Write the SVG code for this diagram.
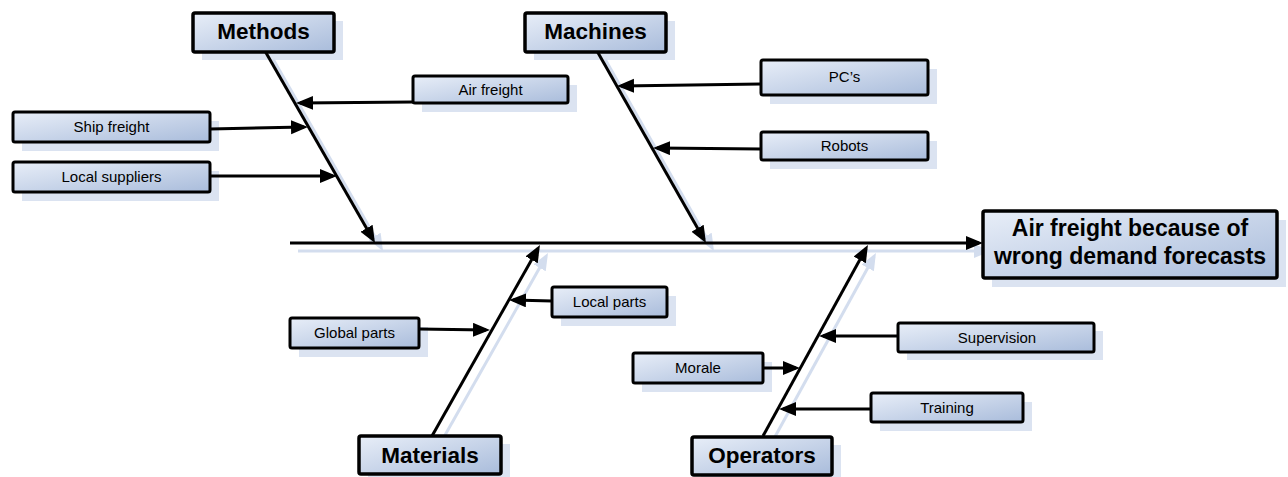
<svg xmlns="http://www.w3.org/2000/svg" width="1288" height="477" viewBox="0 0 1288 477">
  <defs>
    <linearGradient id="boxFill" x1="0" y1="0" x2="1" y2="1">
      <stop offset="0" stop-color="#e8eef8"/>
      <stop offset="1" stop-color="#a9bcdb"/>
    </linearGradient>
    <marker id="head" markerUnits="userSpaceOnUse" markerWidth="18" markerHeight="16" refX="13" refY="7" orient="auto">
      <path d="M0,0 L17,7 L0,14 z" fill="#000"/>
    </marker>
    <marker id="headShadow" markerUnits="userSpaceOnUse" markerWidth="18" markerHeight="16" refX="13" refY="7" orient="auto">
      <path d="M0,0 L17,7 L0,14 z" fill="#d3ddee"/>
    </marker>
  </defs>
  <style>
    .shadow { fill: #dbe3f1; }
    .box { fill: url(#boxFill); stroke: #000; stroke-width: 3; }
    .cat { fill: url(#boxFill); stroke: #000; stroke-width: 3.5; }
    .lbl { font-family: "Liberation Sans", Arial, sans-serif; font-size: 15px; fill: #000; text-anchor: middle; }
    .big { font-family: "Liberation Sans", Arial, sans-serif; font-size: 22.5px; font-weight: bold; fill: #000; text-anchor: middle; }
    .main { font-family: "Liberation Sans", Arial, sans-serif; font-size: 23px; font-weight: bold; fill: #000; text-anchor: middle; }
    .bone { stroke: #000; stroke-width: 3; fill: none; marker-end: url(#head); }
    .boneShadow { stroke: #d3ddee; stroke-width: 3; fill: none; marker-end: url(#headShadow); }
  </style>

  <rect width="1288" height="477" fill="#fff"/>

  <!-- drop shadows behind every box -->
  <g id="box-shadows">
    <rect class="shadow" x="992" y="220" width="294" height="67"/>
    <rect class="shadow" x="202" y="21" width="141" height="39"/>
    <rect class="shadow" x="534" y="21" width="141" height="39"/>
    <rect class="shadow" x="368" y="444" width="142" height="38"/>
    <rect class="shadow" x="701" y="445" width="140" height="38"/>
    <rect class="shadow" x="422" y="85" width="155" height="27"/>
    <rect class="shadow" x="22" y="121" width="197" height="30"/>
    <rect class="shadow" x="22" y="171" width="197" height="30"/>
    <rect class="shadow" x="770" y="69" width="167" height="35"/>
    <rect class="shadow" x="770" y="141" width="167" height="28"/>
    <rect class="shadow" x="561" y="296" width="115" height="30"/>
    <rect class="shadow" x="299" y="327" width="129" height="30"/>
    <rect class="shadow" x="642" y="362" width="130" height="30"/>
    <rect class="shadow" x="907" y="331" width="196" height="29"/>
    <rect class="shadow" x="880" y="402" width="152" height="29"/>
  </g>

  <!-- soft shadows of spine and bones -->
  <g id="bone-shadows" transform="translate(8,8)">
    <line class="boneShadow" x1="290" y1="243" x2="979" y2="243"/>
    <line class="boneShadow" x1="265" y1="51" x2="373" y2="239.5"/>
    <line class="boneShadow" x1="597" y1="51" x2="704" y2="239.5"/>
    <line class="boneShadow" x1="432" y1="436" x2="538" y2="248.5"/>
    <line class="boneShadow" x1="763" y1="436" x2="866" y2="248.5"/>
  </g>

  <!-- connectors: spine, main bones and cause arrows -->
  <g id="connectors">
    <line class="bone" x1="290" y1="243" x2="979" y2="243"/>
    <line class="bone" x1="265" y1="51" x2="373" y2="239.5"/>
    <line class="bone" x1="597" y1="51" x2="704" y2="239.5"/>
    <line class="bone" x1="432" y1="436" x2="538" y2="248.5"/>
    <line class="bone" x1="763" y1="436" x2="866" y2="248.5"/>

    <line class="bone" x1="413" y1="102" x2="300" y2="103"/>
    <line class="bone" x1="210" y1="129" x2="304" y2="127"/>
    <line class="bone" x1="210" y1="176" x2="333" y2="176"/>
    <line class="bone" x1="761" y1="84" x2="621" y2="86"/>
    <line class="bone" x1="761" y1="149" x2="657" y2="148"/>
    <line class="bone" x1="552" y1="301" x2="513" y2="300"/>
    <line class="bone" x1="419" y1="329" x2="486" y2="330"/>
    <line class="bone" x1="763" y1="368" x2="796" y2="368"/>
    <line class="bone" x1="898" y1="336" x2="823" y2="336"/>
    <line class="bone" x1="871" y1="409" x2="783" y2="409"/>
  </g>

  <!-- effect -->
  <g id="effect">
    <rect class="cat" x="983" y="211" width="294" height="67" rx="2"/>
    <text class="main" x="1130" y="236">Air freight because of</text>
    <text class="main" x="1130" y="264">wrong demand forecasts</text>
  </g>

  <!-- categories -->
  <g id="methods">
    <rect class="cat" x="193" y="13" width="141" height="39" rx="2"/>
    <text class="big" x="263.5" y="39">Methods</text>
  </g>
  <g id="machines">
    <rect class="cat" x="525" y="13" width="141" height="39" rx="2"/>
    <text class="big" x="595.5" y="39">Machines</text>
  </g>
  <g id="materials">
    <rect class="cat" x="359" y="436" width="142" height="38" rx="2"/>
    <text class="big" x="430" y="463">Materials</text>
  </g>
  <g id="operators">
    <rect class="cat" x="692" y="437" width="140" height="38" rx="2"/>
    <text class="big" x="762" y="463">Operators</text>
  </g>

  <!-- causes -->
  <g id="air-freight">
    <rect class="box" x="413" y="76" width="155" height="27" rx="2"/>
    <text class="lbl" x="490.5" y="95">Air freight</text>
  </g>
  <g id="ship-freight">
    <rect class="box" x="13" y="112" width="197" height="30" rx="2"/>
    <text class="lbl" x="111.5" y="132">Ship freight</text>
  </g>
  <g id="local-suppliers">
    <rect class="box" x="13" y="162" width="197" height="30" rx="2"/>
    <text class="lbl" x="111.5" y="182">Local suppliers</text>
  </g>
  <g id="pcs">
    <rect class="box" x="761" y="60" width="167" height="35" rx="2"/>
    <text class="lbl" x="844.5" y="82">PC’s</text>
  </g>
  <g id="robots">
    <rect class="box" x="761" y="132" width="167" height="28" rx="2"/>
    <text class="lbl" x="844.5" y="151">Robots</text>
  </g>
  <g id="local-parts">
    <rect class="box" x="552" y="287" width="115" height="30" rx="2"/>
    <text class="lbl" x="609.5" y="307">Local parts</text>
  </g>
  <g id="global-parts">
    <rect class="box" x="290" y="318" width="129" height="30" rx="2"/>
    <text class="lbl" x="354.5" y="338">Global parts</text>
  </g>
  <g id="morale">
    <rect class="box" x="633" y="353" width="130" height="30" rx="2"/>
    <text class="lbl" x="698" y="373">Morale</text>
  </g>
  <g id="supervision">
    <rect class="box" x="898" y="323" width="196" height="29" rx="2"/>
    <text class="lbl" x="997" y="343">Supervision</text>
  </g>
  <g id="training">
    <rect class="box" x="871" y="393" width="152" height="29" rx="2"/>
    <text class="lbl" x="947" y="413">Training</text>
  </g>
</svg>
